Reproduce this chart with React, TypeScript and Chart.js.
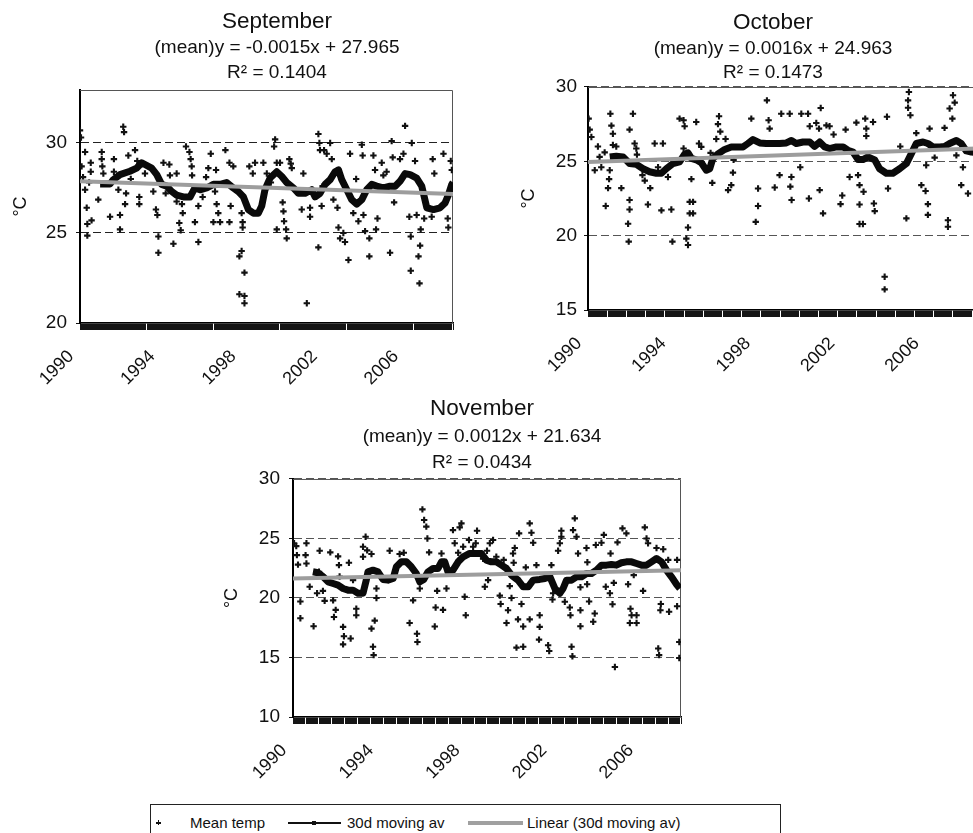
import React, { useEffect, useRef } from 'react';
import { Chart, registerables } from 'chart.js';

Chart.register(...registerables);

const FONT = "'Liberation Sans', Arial, Helvetica, sans-serif";
Chart.defaults.font.family = FONT;

// ---------- tick labels ----------
const YEAR_LABELS = ['1990', '1994', '1998', '2002', '2006'];
const YEAR_LABEL_OFFSETS = [0, 4, 8, 12, 16]; // years after Jan 1990
const SEP_Y_TICKS = [20, 25, 30];
const OCT_Y_TICKS = [15, 20, 25, 30];
const NOV_Y_TICKS = [10, 15, 20, 25, 30];

// ---------- September ----------
const SEP_TEMP_X = [0.00, 0.05, 0.08, 0.15, 0.25, 0.25, 0.33, 0.36, 0.36, 0.45, 0.53, 0.53, 0.57, 0.90, 1.07, 1.07, 1.10, 1.15, 1.48, 1.67, 1.67, 1.89, 1.97, 1.97, 2.13, 2.17, 2.22, 2.27, 2.38, 2.50, 2.71, 2.82, 2.92, 2.92, 3.20, 3.61, 3.74, 3.81, 3.86, 3.86, 4.11, 4.22, 4.40, 4.43, 4.60, 4.76, 4.76, 4.89, 4.96, 5.02, 5.06, 5.22, 5.39, 5.45, 5.50, 5.52, 5.66, 5.83, 5.83, 6.04, 6.21, 6.32, 6.44, 6.57, 6.65, 6.70, 6.73, 6.81, 6.90, 7.16, 7.36, 7.36, 7.42, 7.55, 7.85, 7.85, 7.96, 7.96, 8.01, 8.01, 8.10, 8.10, 8.10, 8.34, 8.51, 8.62, 9.03, 9.20, 9.40, 9.56, 9.61, 9.69, 9.69, 9.85, 9.98, 10.02, 10.05, 10.15, 10.18, 10.31, 10.38, 10.43, 10.92, 11.00, 11.17, 11.33, 11.33, 11.74, 11.74, 11.79, 11.82, 11.90, 11.95, 12.02, 12.15, 12.32, 12.40, 12.48, 12.68, 12.73, 12.81, 12.97, 13.05, 13.22, 13.30, 13.46, 13.60, 13.71, 13.88, 13.92, 13.96, 14.04, 14.25, 14.25, 14.45, 14.53, 14.58, 14.65, 14.86, 14.94, 15.10, 15.27, 15.35, 15.40, 15.47, 15.76, 15.93, 16.01, 16.22, 16.29, 16.29, 16.34, 16.50, 16.58, 16.67, 16.72, 16.75, 16.78, 16.95, 17.11, 17.32, 17.37, 17.45, 17.90, 18.11, 18.14, 18.26, 18.31];
const SEP_TEMP_Y = [30.7, 30.3, 28.7, 28.1, 29.5, 27.4, 26.4, 25.5, 24.85, 27.8, 28.9, 28.4, 25.7, 26.85, 29.5, 29.1, 28.7, 28.3, 25.9, 29.1, 28.4, 27.4, 25.2, 26.0, 30.9, 30.6, 26.6, 27.2, 29.3, 28.0, 29.6, 29.0, 26.6, 27.0, 28.3, 27.3, 26.3, 26.0, 24.8, 23.9, 28.9, 27.2, 28.8, 28.2, 24.4, 28.3, 26.75, 25.55, 25.15, 26.6, 26.1, 29.8, 29.5, 29.1, 28.7, 28.2, 25.6, 24.5, 26.5, 27.0, 28.1, 28.6, 29.4, 25.6, 27.3, 28.5, 26.6, 26.1, 25.6, 29.6, 28.9, 25.6, 26.5, 28.7, 23.7, 21.6, 24.0, 26.1, 25.6, 25.3, 22.8, 21.5, 21.1, 28.7, 28.3, 28.9, 28.9, 28.3, 27.8, 29.8, 30.2, 28.9, 25.2, 28.9, 26.7, 26.2, 25.65, 25.2, 24.7, 29.1, 28.85, 28.6, 26.3, 28.3, 21.1, 25.9, 26.4, 30.5, 24.2, 30.0, 29.6, 26.5, 27.6, 29.6, 29.4, 30.0, 29.1, 26.85, 26.4, 25.3, 24.7, 25.0, 24.5, 23.5, 29.4, 26.1, 28.0, 25.65, 29.9, 29.3, 26.0, 25.1, 24.7, 23.7, 29.3, 28.5, 25.2, 25.8, 28.9, 28.2, 28.4, 23.9, 30.1, 29.2, 26.7, 29.1, 29.4, 30.95, 25.9, 22.9, 24.8, 30.0, 29.0, 26.0, 23.7, 22.2, 24.3, 25.2, 25.8, 26.5, 25.9, 29.1, 28.3, 29.4, 25.8, 25.3, 29.0, 28.5];
const SEP_MA_X = [0.99, 1.48, 1.64, 1.97, 2.46, 2.79, 3.04, 3.20, 3.53, 3.78, 4.02, 4.27, 4.52, 4.76, 5.09, 5.42, 5.66, 5.91, 6.24, 6.57, 6.90, 7.22, 7.55, 7.80, 8.05, 8.29, 8.54, 8.78, 8.95, 9.11, 9.36, 9.69, 9.93, 10.18, 10.51, 10.76, 11.08, 11.41, 11.58, 11.82, 12.07, 12.32, 12.56, 12.73, 12.89, 13.14, 13.38, 13.63, 13.88, 14.12, 14.37, 14.61, 14.94, 15.27, 15.52, 15.76, 16.01, 16.26, 16.58, 16.83, 17.08, 17.41, 17.73, 17.98, 18.14, 18.31, 18.37];
const SEP_MA_Y = [27.72, 27.72, 27.96, 28.24, 28.43, 28.6, 28.9, 28.8, 28.6, 28.24, 27.7, 27.6, 27.3, 27.1, 27.0, 27.0, 27.5, 27.4, 27.5, 27.7, 27.7, 27.8, 27.5, 27.3, 27.0, 26.3, 26.1, 26.1, 26.5, 27.4, 28.05, 28.4, 28.15, 27.8, 27.5, 27.2, 27.2, 27.4, 27.0, 27.2, 27.7, 27.96, 28.4, 28.5, 27.96, 27.4, 26.85, 26.6, 26.85, 27.4, 27.7, 27.6, 27.5, 27.6, 27.6, 27.87, 28.3, 28.24, 28.05, 27.6, 26.4, 26.3, 26.4, 26.67, 27.1, 27.7, 27.8];
const SEP_TREND_X = [0, 18.37];
const SEP_TREND_Y = [27.87, 27.17];

// ---------- October ----------
const OCT_TEMP_X = [0.03, 0.08, 0.16, 0.32, 0.47, 0.55, 0.63, 0.79, 0.84, 0.95, 1.00, 1.03, 1.06, 1.11, 1.18, 1.18, 1.34, 1.58, 1.90, 1.93, 1.97, 1.97, 1.97, 2.13, 2.21, 2.29, 2.32, 2.58, 2.69, 2.84, 2.95, 3.16, 3.32, 3.48, 3.55, 3.79, 3.95, 4.00, 4.34, 4.53, 4.58, 4.53, 4.66, 4.74, 4.74, 4.82, 4.82, 4.90, 4.98, 4.98, 5.13, 5.26, 5.37, 5.81, 5.89, 6.08, 6.16, 6.21, 6.27, 6.52, 6.64, 6.79, 6.87, 6.90, 7.74, 7.95, 8.06, 8.06, 8.48, 8.56, 8.61, 8.85, 9.08, 9.16, 9.56, 9.59, 9.64, 9.65, 10.06, 10.11, 10.43, 10.51, 10.47, 10.82, 10.95, 10.98, 11.03, 11.14, 11.30, 11.45, 11.64, 11.97, 12.05, 12.21, 12.40, 12.72, 12.80, 12.87, 12.87, 13.03, 12.87, 13.06, 13.14, 13.19, 13.19, 13.51, 13.55, 13.59, 14.06, 14.06, 14.17, 14.22, 14.80, 15.09, 15.21, 15.17, 15.17, 15.28, 15.56, 15.80, 16.00, 16.03, 16.11, 16.11, 16.19, 16.43, 16.90, 17.06, 17.06, 17.14, 17.30, 17.38, 17.27, 17.46, 17.69, 17.77, 18.01];
const OCT_TEMP_Y = [27.87, 27.13, 26.64, 24.4, 26.0, 25.3, 24.6, 25.6, 22.0, 23.2, 23.8, 24.4, 28.2, 27.4, 26.86, 26.1, 26.0, 23.2, 20.8, 19.6, 22.4, 21.76, 27.13, 28.2, 26.2, 25.86, 25.45, 24.07, 23.7, 22.1, 23.2, 26.2, 24.6, 21.7, 26.2, 23.95, 21.76, 19.6, 27.87, 27.76, 27.36, 25.86, 19.8, 20.55, 19.37, 22.27, 21.5, 23.8, 22.27, 21.5, 27.65, 26.2, 25.97, 25.57, 23.55, 26.5, 27.5, 28.03, 27.0, 26.5, 23.06, 23.4, 24.24, 25.1, 27.87, 20.93, 23.17, 22.0, 29.1, 27.76, 27.2, 23.24, 24.07, 28.2, 28.2, 23.3, 23.95, 22.4, 24.6, 28.2, 28.2, 27.36, 22.5, 27.58, 27.2, 23.06, 28.59, 21.5, 27.42, 27.36, 26.8, 22.12, 22.7, 27.13, 23.95, 27.6, 24.07, 23.4, 20.78, 20.78, 22.1, 22.95, 27.87, 27.2, 26.7, 27.65, 22.16, 21.65, 17.24, 16.39, 28.0, 23.17, 26.0, 21.16, 29.66, 29.1, 28.6, 28.1, 26.9, 23.4, 23.0, 24.74, 22.12, 21.4, 27.2, 25.25, 27.25, 21.04, 20.6, 28.55, 29.44, 28.95, 27.87, 25.4, 23.4, 24.6, 22.84];
const OCT_MA_X = [1.03, 1.34, 1.66, 1.97, 2.29, 2.61, 2.92, 3.24, 3.48, 3.71, 4.03, 4.34, 4.58, 4.74, 4.90, 5.13, 5.37, 5.61, 5.77, 5.92, 6.16, 6.48, 6.79, 7.11, 7.35, 7.58, 7.82, 8.14, 8.45, 8.77, 9.08, 9.40, 9.64, 9.87, 10.19, 10.51, 10.74, 10.98, 11.22, 11.45, 11.77, 12.09, 12.32, 12.56, 12.80, 13.03, 13.27, 13.59, 13.82, 14.14, 14.45, 14.77, 15.09, 15.32, 15.56, 15.88, 16.11, 16.35, 16.67, 16.90, 17.14, 17.46, 17.69, 17.93, 18.17, 18.39];
const OCT_MA_Y = [25.3, 25.35, 25.3, 24.85, 24.8, 24.5, 24.3, 24.2, 24.2, 24.5, 24.85, 24.96, 25.48, 25.57, 25.2, 25.1, 24.9, 24.4, 24.5, 25.2, 25.5, 25.8, 25.97, 25.97, 25.97, 26.2, 26.46, 26.24, 26.2, 26.2, 26.2, 26.24, 26.4, 26.2, 26.3, 26.3, 26.0, 26.3, 25.97, 25.86, 25.97, 25.97, 25.75, 25.63, 25.12, 25.12, 25.3, 25.1, 24.5, 24.2, 24.2, 24.5, 24.85, 25.5, 26.2, 26.3, 26.2, 25.97, 25.97, 26.0, 26.2, 26.4, 26.2, 25.7, 25.63, 25.6];
const OCT_TREND_X = [0, 18.39];
const OCT_TREND_Y = [24.96, 25.87];

// ---------- November ----------
const NOV_TEMP_X = [0.05, 0.15, 0.18, 0.23, 0.34, 0.34, 0.62, 0.58, 0.62, 0.77, 0.95, 1.11, 1.20, 1.23, 1.38, 1.46, 1.72, 1.85, 1.89, 1.97, 2.08, 2.12, 2.15, 2.31, 2.31, 2.35, 2.58, 2.66, 2.77, 2.92, 2.92, 3.23, 3.23, 3.35, 3.42, 3.62, 3.62, 3.69, 3.72, 3.77, 3.85, 3.85, 4.46, 4.92, 5.11, 5.38, 5.54, 5.72, 5.74, 5.85, 5.97, 6.05, 6.15, 6.20, 6.28, 6.54, 6.58, 6.65, 6.85, 6.92, 7.08, 7.38, 7.46, 7.62, 7.69, 7.77, 7.85, 7.92, 7.97, 8.12, 8.31, 8.43, 8.49, 8.77, 8.85, 8.95, 9.00, 9.08, 9.23, 9.38, 9.54, 9.58, 9.72, 9.85, 9.92, 10.00, 10.08, 10.15, 10.18, 10.23, 10.31, 10.38, 10.43, 10.54, 10.62, 10.62, 10.74, 10.92, 11.00, 10.92, 11.08, 11.23, 11.35, 11.38, 11.38, 11.77, 11.82, 11.92, 11.97, 12.00, 12.23, 12.31, 12.38, 12.38, 12.54, 12.77, 12.80, 12.85, 12.89, 13.00, 12.92, 13.08, 13.15, 13.26, 13.26, 13.26, 13.54, 13.58, 13.57, 13.66, 13.85, 13.92, 13.97, 14.23, 14.34, 14.43, 14.62, 14.65, 14.74, 14.80, 14.85, 14.97, 15.20, 15.38, 15.46, 15.54, 15.57, 15.62, 15.72, 15.85, 15.85, 16.15, 16.23, 16.31, 16.38, 16.77, 16.85, 16.89, 16.95, 16.97, 17.08, 17.31, 17.35, 17.72, 17.72, 17.82, 17.82];
const NOV_TEMP_Y = [24.6, 24.36, 23.6, 22.8, 19.7, 18.3, 24.6, 23.6, 22.9, 20.94, 17.63, 20.4, 22.2, 23.97, 20.6, 19.76, 23.83, 19.8, 18.4, 19.0, 23.5, 22.76, 21.8, 17.57, 16.1, 16.79, 22.96, 16.6, 21.5, 18.55, 19.1, 24.3, 23.46, 25.15, 24.0, 23.7, 17.43, 15.9, 15.2, 18.1, 20.0, 20.8, 23.97, 23.7, 23.8, 17.9, 19.8, 17.0, 16.3, 20.8, 27.45, 26.55, 26.0, 25.0, 23.83, 17.6, 19.2, 20.6, 23.74, 19.0, 20.8, 25.7, 24.6, 23.8, 25.93, 26.27, 24.3, 20.1, 18.55, 24.87, 24.3, 24.6, 25.65, 23.3, 20.94, 23.97, 21.5, 24.6, 24.87, 23.46, 20.2, 19.5, 23.2, 17.9, 18.97, 21.0, 20.0, 23.74, 22.96, 24.2, 15.83, 18.2, 25.43, 19.5, 15.9, 17.6, 22.57, 26.27, 25.48, 18.2, 24.64, 22.76, 16.5, 17.57, 18.55, 16.03, 15.55, 22.76, 19.87, 20.4, 23.97, 24.6, 25.65, 25.15, 19.68, 19.2, 18.55, 15.9, 15.1, 26.69, 25.7, 25.15, 23.74, 17.63, 20.9, 18.97, 24.2, 23.0, 21.16, 19.7, 18.0, 18.7, 24.45, 24.64, 25.3, 20.94, 20.4, 23.74, 19.48, 21.27, 14.2, 24.67, 25.85, 25.43, 21.16, 17.9, 19.1, 18.55, 21.92, 17.9, 18.55, 20.6, 25.93, 25.0, 24.6, 24.2, 15.75, 15.2, 18.97, 19.5, 24.1, 23.2, 18.84, 19.3, 23.2, 16.3, 14.96];
const NOV_MA_X = [0.92, 1.15, 1.38, 1.62, 1.85, 2.08, 2.31, 2.54, 2.77, 3.00, 3.23, 3.38, 3.46, 3.69, 3.92, 4.15, 4.38, 4.62, 4.77, 5.00, 5.23, 5.46, 5.69, 5.85, 6.03, 6.23, 6.46, 6.69, 6.85, 7.00, 7.15, 7.38, 7.62, 7.85, 8.15, 8.46, 8.69, 8.92, 9.15, 9.38, 9.62, 9.85, 10.08, 10.38, 10.62, 10.85, 11.08, 11.38, 11.62, 11.85, 12.08, 12.31, 12.46, 12.62, 12.85, 13.08, 13.31, 13.54, 13.77, 14.00, 14.23, 14.46, 14.69, 14.92, 15.15, 15.38, 15.62, 15.85, 16.08, 16.31, 16.54, 16.77, 17.00, 17.23, 17.46, 17.69, 17.85];
const NOV_MA_Y = [22.2, 22.12, 21.8, 21.36, 21.22, 21.08, 20.8, 20.66, 20.66, 20.4, 20.4, 21.5, 22.2, 22.34, 22.2, 21.56, 21.5, 21.64, 22.62, 23.04, 23.04, 22.62, 22.06, 21.36, 21.56, 22.2, 22.48, 22.48, 23.04, 23.04, 22.2, 22.34, 23.04, 23.46, 23.74, 23.74, 23.74, 23.18, 23.04, 23.04, 22.76, 22.48, 21.92, 21.5, 20.94, 20.94, 21.5, 21.56, 21.64, 21.8, 20.8, 20.4, 20.8, 21.5, 21.5, 21.78, 21.78, 22.06, 22.06, 22.34, 22.76, 22.76, 22.82, 22.76, 22.96, 23.04, 23.04, 22.9, 22.76, 22.76, 23.04, 23.32, 23.04, 22.34, 21.78, 21.16, 20.8];
const NOV_TREND_X = [0, 17.9];
const NOV_TREND_Y = [21.64, 22.34];

const zip = (xs: number[], ys: number[]) => xs.map((x, i) => ({ x, y: ys[i] }));

const framePlugin = {
  id: 'frame',
  beforeDatasetsDraw(chart: any) {
    const { ctx, chartArea: a } = chart;
    ctx.save();
    ctx.strokeStyle = '#555';
    ctx.lineWidth = 1;
    ctx.beginPath();
    ctx.moveTo(a.left, a.top + 0.5);
    ctx.lineTo(a.right - 0.5, a.top + 0.5);
    ctx.lineTo(a.right - 0.5, a.bottom);
    ctx.stroke();
    ctx.restore();
  },
};

type PanelProps = {
  left: number; top: number; width: number; height: number;
  padLeft: number; yAxisWidth: number; rightSpacer: number; xAxisHeight: number;
  title: string; eq: string; r2: string;
  titlePadTop: number; subLineHeight: number; subPadTop: number; subPadBottom: number;
  yMin: number; yMax: number; yTicks: number[]; yTickPad: number; gridColor: string;
  xMax: number;
  tempX: number[]; tempY: number[]; maX: number[]; maY: number[]; trendX: number[]; trendY: number[];
};

function Panel(p: PanelProps) {
  const ref = useRef<HTMLCanvasElement | null>(null);
  useEffect(() => {
    if (!ref.current) return;
    const chart = new Chart(ref.current, {
      type: 'scatter',
      data: {
        datasets: [
          {
            label: 'Mean temp',
            data: zip(p.tempX, p.tempY),
            pointStyle: 'cross',
            pointRadius: 3.2,
            pointBorderWidth: 2.1,
            borderColor: '#111',
            backgroundColor: '#111',
            showLine: false,
            order: 3,
          },
          {
            label: '30d moving av',
            data: zip(p.maX, p.maY),
            showLine: true,
            borderColor: '#0a0a0a',
            borderWidth: 7,
            pointRadius: 0,
            borderJoinStyle: 'round',
            order: 2,
          },
          {
            label: 'Linear (30d moving av)',
            data: zip(p.trendX, p.trendY),
            showLine: true,
            borderColor: '#9d9d9d',
            borderWidth: 4,
            pointRadius: 0,
            order: 1,
          },
        ],
      } as any,
      options: {
        animation: false,
        responsive: false,
        devicePixelRatio: 1,
        events: [],
        layout: { padding: { left: p.padLeft, right: 0, top: 0, bottom: 0 } },
        plugins: {
          legend: { display: false },
          tooltip: { enabled: false },
          title: {
            display: true,
            text: p.title,
            color: '#111',
            font: { size: 22.5, weight: 'normal', lineHeight: 1.2 },
            padding: { top: p.titlePadTop, bottom: 0 },
          },
          subtitle: {
            display: true,
            text: [p.eq, p.r2],
            color: '#111',
            font: { size: 19, lineHeight: p.subLineHeight },
            padding: { top: p.subPadTop, bottom: p.subPadBottom },
          },
        },
        scales: {
          x: {
            type: 'linear',
            min: 0,
            max: p.xMax,
            afterFit: (s: any) => { s.height = p.xAxisHeight; },
            ticks: {
              stepSize: 0.05,
              autoSkip: false,
              minRotation: 45,
              maxRotation: 45,
              padding: 16,
              labelOffset: -9,
              color: '#111',
              font: { size: 18 },
              callback: (v: any) => {
                const n = Number(v);
                const idx = YEAR_LABEL_OFFSETS.findIndex((o) => Math.abs(o - n) < 1e-6);
                return idx >= 0 ? YEAR_LABELS[idx] : '';
              },
            },
            grid: {
              display: true,
              drawOnChartArea: false,
              drawTicks: true,
              tickLength: 7,
              tickColor: '#151515',
              tickWidth: 1,
            },
            border: { display: true, color: '#000', width: 1.5 },
          },
          y: {
            type: 'linear',
            min: p.yMin,
            max: p.yMax,
            afterFit: (s: any) => { s.width = p.yAxisWidth; },
            afterBuildTicks: (s: any) => { s.ticks = p.yTicks.map((v) => ({ value: v })); },
            ticks: { color: '#111', font: { size: 19 }, padding: p.yTickPad },
            grid: {
              color: (c: any) => (c.tick && c.tick.value === p.yMin ? 'rgba(0,0,0,0)' : p.gridColor),
              lineWidth: 1,
              drawTicks: true,
              tickLength: 4,
              tickColor: '#111',
            },
            border: { display: true, color: '#000', width: 2, dash: [8, 4] },
            title: { display: true, text: '°C', color: '#111', font: { size: 18 }, padding: 0 },
          },
          y2: {
            type: 'linear',
            position: 'right',
            display: true,
            afterFit: (s: any) => { s.width = p.rightSpacer; },
            grid: { display: false },
            ticks: { display: false },
            border: { display: false },
          },
        },
      } as any,
      plugins: [framePlugin],
    });
    return () => chart.destroy();
  }, []);
  return (
    <canvas
      ref={ref}
      width={p.width}
      height={p.height}
      style={{ position: 'absolute', left: p.left, top: p.top, width: p.width, height: p.height }}
    />
  );
}

const legendText: React.CSSProperties = {
  position: 'absolute', top: 9, fontSize: 15, fontFamily: FONT, color: '#111', lineHeight: '18px', whiteSpace: 'nowrap',
};

export default function App() {
  return (
    <div style={{ position: 'absolute', left: 0, top: 0, width: 973, height: 833, overflow: 'hidden', background: '#fff', fontFamily: FONT }}>
      <Panel
        left={0} top={0} width={544} height={388}
        padLeft={10} yAxisWidth={70} rightSpacer={91} xAxisHeight={65}
        title="September" eq="(mean)y = -0.0015x + 27.965" r2="R² = 0.1404"
        titlePadTop={8.5} subLineHeight={1.316} subPadTop={0} subPadBottom={4.5}
        yMin={20} yMax={32.94} yTicks={SEP_Y_TICKS} yTickPad={9} gridColor="#222"
        xMax={18.37}
        tempX={SEP_TEMP_X} tempY={SEP_TEMP_Y} maX={SEP_MA_X} maY={SEP_MA_Y} trendX={SEP_TREND_X} trendY={SEP_TREND_Y}
      />
      <Panel
        left={508} top={0} width={520} height={375}
        padLeft={10} yAxisWidth={70} rightSpacer={52} xAxisHeight={65}
        title="October" eq="(mean)y = 0.0016x + 24.963" r2="R² = 0.1473"
        titlePadTop={9.5} subLineHeight={1.263} subPadTop={0} subPadBottom={2.5}
        yMin={15} yMax={30} yTicks={OCT_Y_TICKS} yTickPad={7} gridColor="#555"
        xMax={18.39}
        tempX={OCT_TEMP_X} tempY={OCT_TEMP_Y} maX={OCT_MA_X} maY={OCT_MA_Y} trendX={OCT_TREND_X} trendY={OCT_TREND_Y}
      />
      <Panel
        left={211} top={380} width={532} height={402}
        padLeft={10} yAxisWidth={72} rightSpacer={62} xAxisHeight={65}
        title="November" eq="(mean)y = 0.0012x + 21.634" r2="R² = 0.0434"
        titlePadTop={15.5} subLineHeight={1.368} subPadTop={1.5} subPadBottom={3}
        yMin={10} yMax={30} yTicks={NOV_Y_TICKS} yTickPad={9} gridColor="#555"
        xMax={17.9}
        tempX={NOV_TEMP_X} tempY={NOV_TEMP_Y} maX={NOV_MA_X} maY={NOV_MA_Y} trendX={NOV_TREND_X} trendY={NOV_TREND_Y}
      />
      <div style={{ position: 'absolute', left: 150, top: 804, width: 631, height: 40, borderTop: '1.5px solid #222', borderLeft: '1.5px solid #222', borderRight: '1.5px solid #222', boxSizing: 'border-box' }}>
        <div style={{ position: 'absolute', left: 5, top: 17, width: 5, height: 1.8, background: '#111' }} />
        <div style={{ position: 'absolute', left: 6.6, top: 15.4, width: 1.8, height: 5, background: '#111' }} />
        <div style={{ ...legendText, left: 39 }}>Mean temp</div>
        <div style={{ position: 'absolute', left: 137, top: 17.3, width: 53, height: 1.5, background: '#111' }} />
        <div style={{ position: 'absolute', left: 161, top: 16.3, width: 4, height: 3.5, background: '#111' }} />
        <div style={{ ...legendText, left: 196 }}>30d moving av</div>
        <div style={{ position: 'absolute', left: 317, top: 16, width: 55, height: 4, background: '#a0a0a0' }} />
        <div style={{ ...legendText, left: 376 }}>Linear (30d moving av)</div>
      </div>
    </div>
  );
}
